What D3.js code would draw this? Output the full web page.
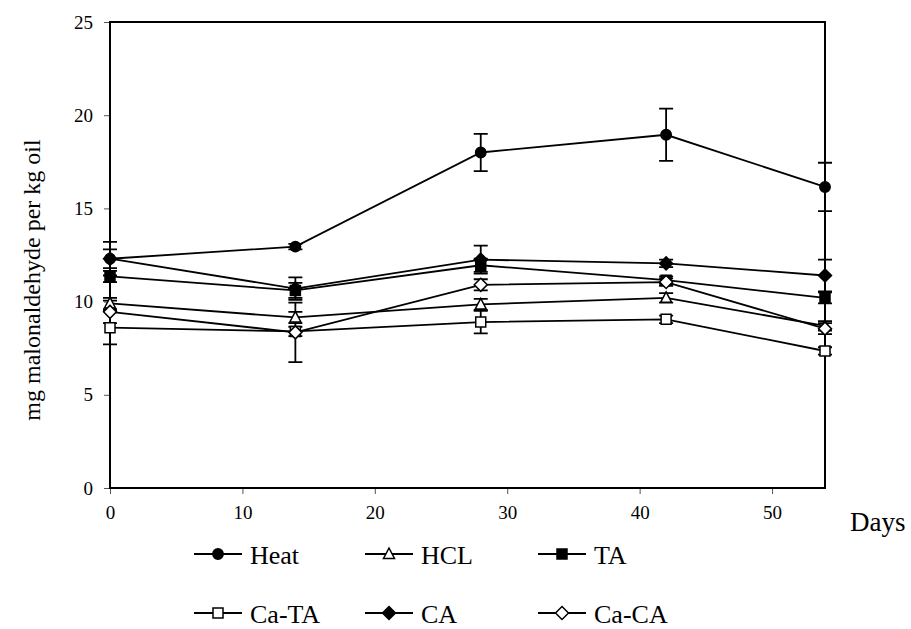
<!DOCTYPE html>
<html>
<head>
<meta charset="utf-8">
<script src="https://cdn.jsdelivr.net/npm/d3@7"></script>
<style>
  body { margin: 0; background: #fff; }
</style>
</head>
<body>
<div id="chart"></div>
<script>
// days of storage
var days = [0, 14, 28, 42, 54];

// series values (mg malonaldehyde per kg oil)
var heat = [12.3, 12.95, 18.0, 18.95, 16.15];
var hcl = [9.9, 9.15, 9.85, 10.2, 8.7];
var ta = [11.35, 10.6, 11.95, 11.15, 10.2];
var caTa = [8.6, 8.4, 8.9, 9.05, 7.35];
var ca = [12.3, 10.7, 12.25, 12.05, 11.4];
var caCa = [9.45, 8.35, 10.9, 11.05, 8.55];

// error bar half-lengths
var heatErr = [0.9, 0.15, 1.0, 1.4, 1.3];
var hclErr = [0.3, 0.3, 0.3, 0.25, 0.25];
var taErr = [0.3, 0.4, 0.35, 0.2, 0.3];
var caTaErr = [0.9, 0.25, 0.6, 0.2, 0.2];
var caErr = [0.5, 0.6, 0.75, 0.2, 0.85];
var caCaErr = [0.6, 1.6, 0.3, 0.2, 0.3];

var yTicks = [0, 5, 10, 15, 20, 25];
var xTicks = [0, 10, 20, 30, 40, 50];

var seriesNames = ["Heat", "HCL", "TA", "Ca-TA", "CA", "Ca-CA"];
var seriesValues = [heat, hcl, ta, caTa, ca, caCa];
var seriesErrors = [heatErr, hclErr, taErr, caTaErr, caErr, caCaErr];
var seriesMarkers = ["circle", "triangle", "square", "square", "diamond", "diamond"];
var seriesFilled = [true, false, true, false, true, false];

var serif = "'Liberation Serif', 'Times New Roman', serif";
var width = 911, height = 629;
var margin = { top: 22, right: 86, bottom: 141, left: 110 };

var svg = d3.select("#chart").append("svg")
  .attr("width", width)
  .attr("height", height);

var x = d3.scaleLinear().domain([0, 54]).range([margin.left, width - margin.right]);
var y = d3.scaleLinear().domain([0, 25]).range([height - margin.bottom, margin.top]);

// marker path builder
function markerPath(type) {
  if (type === "circle") return d3.symbol().type(d3.symbolCircle).size(85)();
  if (type === "square") return "M-5,-5H5V5H-5Z";
  if (type === "triangle") return "M0,-6L5.5,4.5H-5.5Z";
  return "M0,-6.5L6.5,0L0,6.5L-6.5,0Z";
}

// axes
svg.append("g")
  .attr("transform", "translate(" + margin.left + ",0)")
  .call(d3.axisLeft(y).tickValues(yTicks).tickSize(6).tickPadding(11))
  .call(function (g) {
    g.select(".domain").remove();
    g.selectAll("line").attr("stroke", "#555");
    g.selectAll("text").style("font-size", "19px").style("font-family", serif).attr("fill", "#000");
  });

svg.append("g")
  .attr("transform", "translate(0," + (height - margin.bottom) + ")")
  .call(d3.axisBottom(x).tickValues(xTicks).tickSize(6).tickPadding(12))
  .call(function (g) {
    g.select(".domain").remove();
    g.selectAll("line").attr("stroke", "#555");
    g.selectAll("text").style("font-size", "19px").style("font-family", serif).attr("fill", "#000");
  });

// plot frame
svg.append("rect")
  .attr("x", x(0))
  .attr("y", y(25))
  .attr("width", x(54) - x(0))
  .attr("height", y(0) - y(25))
  .attr("fill", "none")
  .attr("stroke", "#000")
  .attr("stroke-width", 2);

var line = d3.line()
  .x(function (d) { return x(d.day); })
  .y(function (d) { return y(d.v); });

var data = seriesNames.map(function (name, i) {
  return {
    name: name,
    marker: seriesMarkers[i],
    filled: seriesFilled[i],
    points: days.map(function (day, j) {
      return { day: day, v: seriesValues[i][j], e: seriesErrors[i][j] };
    })
  };
});

// lines
svg.selectAll(".series-line")
  .data(data)
  .enter().append("path")
  .attr("class", "series-line")
  .attr("d", function (d) { return line(d.points); })
  .attr("fill", "none")
  .attr("stroke", "#000")
  .attr("stroke-width", 1.8);

// error bars
var errG = svg.selectAll(".err")
  .data(data)
  .enter().append("g")
  .attr("class", "err");

errG.selectAll(".bar")
  .data(function (d) { return d.points; })
  .enter().append("path")
  .attr("class", "bar")
  .attr("d", function (p) {
    var cx = x(p.day), y1 = y(p.v + p.e), y2 = y(p.v - p.e);
    return "M" + cx + "," + y1 + "V" + y2 +
      "M" + (cx - 7) + "," + y1 + "H" + (cx + 7) +
      "M" + (cx - 7) + "," + y2 + "H" + (cx + 7);
  })
  .attr("fill", "none")
  .attr("stroke", "#000")
  .attr("stroke-width", 1.8);

// markers
var markG = svg.selectAll(".marks")
  .data(data)
  .enter().append("g")
  .attr("class", "marks");

markG.selectAll("path")
  .data(function (d) { return d.points.map(function (p) { return { p: p, s: d }; }); })
  .enter().append("path")
  .attr("transform", function (d) { return "translate(" + x(d.p.day) + "," + y(d.p.v) + ")"; })
  .attr("d", function (d) { return markerPath(d.s.marker); })
  .attr("fill", function (d) { return d.s.filled ? "#000" : "#fff"; })
  .attr("stroke", "#000")
  .attr("stroke-width", 1.5);

// axis titles
svg.append("text")
  .attr("transform", "translate(40," + ((y(0) + y(25)) / 2 + 25) + ") rotate(-90)")
  .attr("text-anchor", "middle")
  .style("font-family", serif)
  .style("font-size", "24px")
  .text("mg malonaldehyde per kg oil");

svg.append("text")
  .attr("x", 850)
  .attr("y", 531)
  .style("font-family", serif)
  .style("font-size", "27px")
  .text("Days");

// legend
var legendCols = [194, 365, 538];
var legendRows = [554, 613];

var legend = svg.selectAll(".legend")
  .data(data)
  .enter().append("g")
  .attr("class", "legend")
  .attr("transform", function (d, i) {
    return "translate(" + legendCols[i % 3] + "," + legendRows[Math.floor(i / 3)] + ")";
  });

legend.append("line")
  .attr("x1", 0).attr("x2", 48)
  .attr("y1", 0).attr("y2", 0)
  .attr("stroke", "#000")
  .attr("stroke-width", 1.8);

legend.append("path")
  .attr("transform", "translate(24,0)")
  .attr("d", function (d) { return markerPath(d.marker); })
  .attr("fill", function (d) { return d.filled ? "#000" : "#fff"; })
  .attr("stroke", "#000")
  .attr("stroke-width", 1.5);

legend.append("text")
  .attr("x", 56)
  .attr("y", 10)
  .style("font-family", serif)
  .style("font-size", "26px")
  .text(function (d) { return d.name; });
</script>
</body>
</html>
